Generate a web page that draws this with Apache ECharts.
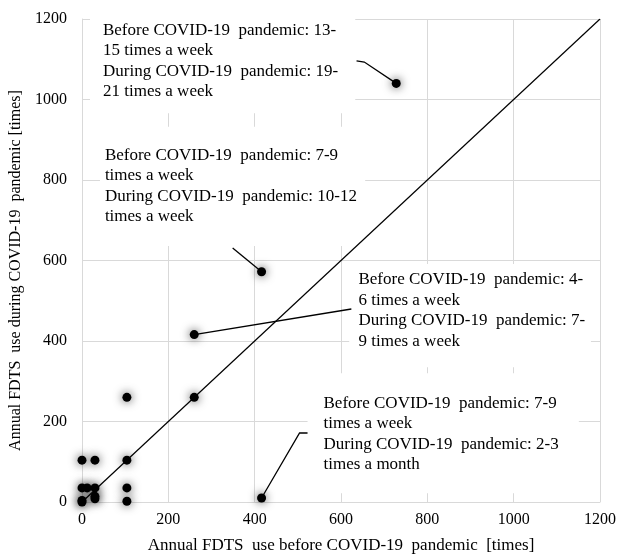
<!DOCTYPE html>
<html>
<head>
<meta charset="utf-8">
<script src="https://cdn.jsdelivr.net/npm/echarts@6/dist/echarts.min.js"></script>
<style>
html,body{margin:0;padding:0;background:#fff;}
#chart{width:619px;height:559px;}
</style>
</head>
<body>
<div id="chart"></div>
<script>
// ---- data (annual uses) ----
var beforeUse = [0, 0, 0, 12, 30, 30, 30, 0, 30, 104, 104, 104, 104, 260, 260, 416, 416, 728];
var duringUse = [0, 4, 35, 35, 35, 14, 8, 104, 104, 104, 35, 2, 260, 260, 416, 572, 10, 1040];
var xTicks = [0, 200, 400, 600, 800, 1000, 1200];
var yTicks = [0, 200, 400, 600, 800, 1000, 1200];
var diagonal = [[0, 0], [1200, 1200]];
var annotationTexts = [
  'Before COVID-19  pandemic: 13-\n15 times a week\nDuring COVID-19  pandemic: 19-\n21 times a week',
  'Before COVID-19  pandemic: 7-9\ntimes a week\nDuring COVID-19  pandemic: 10-12\ntimes a week',
  'Before COVID-19  pandemic: 4-\n6 times a week\nDuring COVID-19  pandemic: 7-\n9 times a week',
  'Before COVID-19  pandemic: 7-9\ntimes a week\nDuring COVID-19  pandemic: 2-3\ntimes a month'
];
var annotationTargets = [17, 15, 14, 16]; // index of the point each note refers to

// ---- annotation layout (in axis units) ----
var annotationLayout = [
  {box: [18.5, 1222, 633, 966], text: [48.6, 1198], leader: [[636, 1096], [654, 1093]]},
  {box: [41.6, 932, 656, 636], text: [53, 887], leader: [[349, 631]]},
  {box: [619, 591, 1179, 335], text: [640.5, 577], leader: [[624, 479.5]]},
  {box: [522.5, 320, 1151, 22], text: [559.5, 271], leader: [[522.5, 171.4], [504, 171.4]]}
];

var points = beforeUse.map(function (v, i) { return [v, duringUse[i]]; });
var FONT = '"Liberation Serif", "Times New Roman", serif';

var chart = echarts.init(document.getElementById('chart'), null, {renderer: 'canvas'});
var axisCommon = {
  type: 'value', min: 0, max: 1200, interval: 200,
  axisLine: {show: true, lineStyle: {color: '#d9d9d9', width: 1}},
  axisTick: {show: false},
  splitLine: {show: true, lineStyle: {color: '#d9d9d9', width: 1}},
  nameLocation: 'middle'
};
chart.setOption({
  animation: false,
  backgroundColor: '#fff',
  grid: {left: 82, right: 19, top: 19, bottom: 57, containLabel: false, outerBoundsMode: 'none'},
  xAxis: Object.assign({}, axisCommon, {
    name: 'Annual FDTS  use before COVID-19  pandemic  [times]',
    nameGap: 35,
    nameTextStyle: {fontFamily: FONT, fontSize: 17, color: '#000'},
    axisLabel: {fontFamily: FONT, fontSize: 16, color: '#000', margin: 10,
      formatter: function (v) { return xTicks.indexOf(v) >= 0 ? String(v) : ''; }}
  }),
  yAxis: Object.assign({}, axisCommon, {
    name: 'Annual FDTS  use during COVID-19  pandemic [times]',
    nameGap: 56,
    nameTextStyle: {fontFamily: FONT, fontSize: 16, color: '#000', padding: [0, 20, 0, 0]},
    axisLabel: {fontFamily: FONT, fontSize: 16, color: '#000', margin: 15,
      formatter: function (v) { return yTicks.indexOf(v) >= 0 ? String(v) : ''; }}
  }),
  series: [
    {
      type: 'custom', z: 1, silent: true, clip: false,
      data: annotationLayout.map(function (a) { return a.text; }),
      encode: {x: 0, y: 1},
      renderItem: function (params, api) {
        var a = annotationLayout[params.dataIndex];
        var p0 = api.coord([a.box[0], a.box[1]]);
        var p1 = api.coord([a.box[2], a.box[3]]);
        var t = api.coord(a.text);
        var tgt = points[annotationTargets[params.dataIndex]];
        var pts = a.leader.map(function (q) { return api.coord(q); });
        pts.push(api.coord(tgt));
        return {type: 'group', children: [
          {type: 'rect', shape: {x: p0[0], y: p0[1], width: p1[0] - p0[0], height: p1[1] - p0[1]},
            style: {fill: '#fff'}},
          {type: 'text', x: t[0], y: t[1], style: {text: annotationTexts[params.dataIndex],
            font: '17px ' + FONT, lineHeight: 20.5, fill: '#000', align: 'left', verticalAlign: 'top'}},
          {type: 'polyline', shape: {points: pts}, style: {stroke: '#000', lineWidth: 1.3, fill: null}}
        ]};
      }
    },
    {
      type: 'line', z: 2, data: diagonal, showSymbol: false, symbol: 'none', silent: true,
      lineStyle: {color: '#000', width: 1.2}
    },
    {
      type: 'scatter', z: 3, data: points, symbolSize: 9, clip: false, silent: true,
      itemStyle: {color: '#000', opacity: 1, shadowBlur: 10, shadowColor: 'rgba(0,0,0,0.75)'}
    }
  ]
});
</script>
</body>
</html>
